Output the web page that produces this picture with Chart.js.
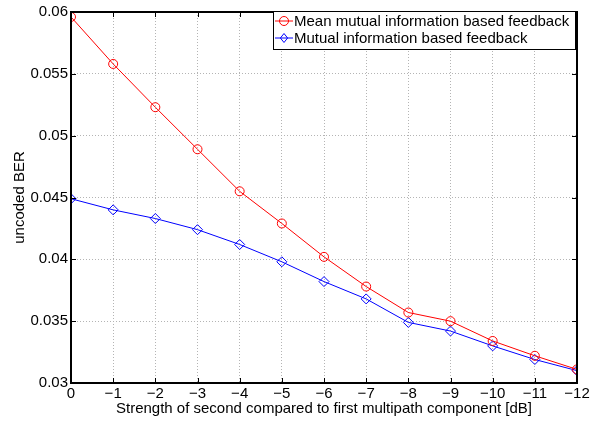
<!DOCTYPE html>
<html><head><meta charset="utf-8">
<script src="https://cdn.jsdelivr.net/npm/chart.js@4"></script>
<style>html,body{margin:0;padding:0;background:#fff}</style>
</head><body>
<canvas id="c" width="599" height="421"></canvas>
<script>
const strengthDb = [0, -1, -2, -3, -4, -5, -6, -7, -8, -9, -10, -11, -12];
const meanMutualInfo = [0.0596, 0.0558, 0.0523, 0.0489, 0.0455, 0.0429, 0.0402, 0.0378, 0.0357, 0.0350, 0.0334, 0.0322, 0.0311];
const mutualInfo = [0.0449, 0.0440, 0.0433, 0.0424, 0.0412, 0.0398, 0.0382, 0.0368, 0.0349, 0.0342, 0.0330, 0.0319, 0.0310];
const seriesNames = ["Mean mutual information based feedback", "Mutual information based feedback"];
const xTicks = [0, -1, -2, -3, -4, -5, -6, -7, -8, -9, -10, -11, -12];
const yTicks = [0.03, 0.035, 0.04, 0.045, 0.05, 0.055, 0.06];
const xTitle = "Strength of second compared to first multipath component [dB]";
const yTitle = "uncoded BER";

const FONT = '"Liberation Sans", Arial, Helvetica, sans-serif';
const FS = 15;
Chart.defaults.font.family = FONT;
Chart.defaults.font.size = FS;
Chart.defaults.color = '#000';

const toPts = (xs, ys) => xs.map((x, i) => ({x: x, y: ys[i]}));

const framePlugin = {
  id: 'frame',
  afterDraw(chart) {
    const {ctx, chartArea: a, scales} = chart;
    ctx.save();
    ctx.strokeStyle = '#000';
    ctx.lineWidth = 1;
    const tl = 5;
    ctx.beginPath();
    xTicks.forEach(v => {
      const px = Math.round(scales.x.getPixelForValue(v)) + 0.5;
      ctx.moveTo(px, a.bottom); ctx.lineTo(px, a.bottom - tl);
      ctx.moveTo(px, a.top); ctx.lineTo(px, a.top + tl);
    });
    yTicks.forEach(v => {
      const py = Math.round(scales.y.getPixelForValue(v)) + 0.5;
      ctx.moveTo(a.left, py); ctx.lineTo(a.left + tl, py);
      ctx.moveTo(a.right, py); ctx.lineTo(a.right - tl, py);
    });
    ctx.stroke();
    ctx.lineWidth = 2;
    ctx.strokeRect(a.left, a.top, a.right - a.left, a.bottom - a.top);
    ctx.restore();

    // legend
    const lx = 273, ly = 11, lw = 302, lh = 38;
    ctx.save();
    ctx.fillStyle = '#fff';
    ctx.fillRect(lx, ly, lw, lh);
    ctx.strokeStyle = '#000';
    ctx.lineWidth = 1;
    ctx.strokeRect(lx + 0.5, ly + 0.5, lw, lh);
    chart.data.datasets.forEach((ds, i) => {
      const cy = ly + 10 + i * 17;
      ctx.strokeStyle = ds.borderColor;
      ctx.lineWidth = 1;
      ctx.beginPath();
      ctx.moveTo(lx + 2, cy); ctx.lineTo(lx + 20, cy);
      ctx.stroke();
      const mx = lx + 11, r = 4.5;
      ctx.beginPath();
      if (ds.pointStyle === 'circle') {
        ctx.arc(mx, cy, r, 0, Math.PI * 2);
      } else {
        ctx.moveTo(mx, cy - r); ctx.lineTo(mx + r * 0.8, cy); ctx.lineTo(mx, cy + r); ctx.lineTo(mx - r * 0.8, cy); ctx.closePath();
      }
      ctx.stroke();
      ctx.fillStyle = '#000';
      ctx.font = FS + 'px ' + FONT;
      ctx.textBaseline = 'middle';
      ctx.textAlign = 'left';
      ctx.fillText(ds.label, lx + 21, cy + 1);
    });
    ctx.restore();
  }
};

new Chart(document.getElementById('c'), {
  type: 'line',
  data: {
    datasets: [
      {label: seriesNames[0], data: toPts(strengthDb, meanMutualInfo), borderColor: '#ff0000', backgroundColor: 'rgba(0,0,0,0)',
       pointStyle: 'circle', pointRadius: 4.5, pointBorderWidth: 1, borderWidth: 1, pointBorderColor: '#ff0000', pointBackgroundColor: 'rgba(0,0,0,0)', tension: 0},
      {label: seriesNames[1], data: toPts(strengthDb, mutualInfo), borderColor: '#0000ff', backgroundColor: 'rgba(0,0,0,0)',
       pointStyle: 'rectRot', pointRadius: 5, pointBorderWidth: 1, borderWidth: 1, pointBorderColor: '#0000ff', pointBackgroundColor: 'rgba(0,0,0,0)', tension: 0}
    ]
  },
  options: {
    responsive: false,
    animation: false,
    events: [],
    layout: {padding: {left: 0, top: 8, right: 22, bottom: 0}},
    plugins: {legend: {display: false}, tooltip: {enabled: false}},
    scales: {
      x: {
        type: 'linear', min: -12, max: 0, reverse: true,
        afterBuildTicks: s => { s.ticks = xTicks.map(v => ({value: v})); },
        afterFit: s => { s.height = 38; },
        ticks: {padding: 2, maxRotation: 0, autoSkip: false,
          callback: v => v === 0 ? '0' : '\u2212' + Math.abs(v)},
        grid: {color: '#b4b4b4', lineWidth: 1, drawTicks: false},
        border: {display: false, dash: [1, 2]},
        title: {display: true, text: xTitle, padding: {top: 0, bottom: 3}}
      },
      y: {
        type: 'linear', min: 0.03, max: 0.06,
        afterBuildTicks: s => { s.ticks = yTicks.map(v => ({value: v})); },
        afterFit: s => { s.width = 71; },
        ticks: {padding: 3, callback: v => String(Number(v.toFixed(3)))},
        grid: {color: '#b4b4b4', lineWidth: 1, drawTicks: false},
        border: {display: false, dash: [1, 2]},
        title: {display: true, text: yTitle, padding: {top: 11, bottom: 0}}
      }
    }
  },
  plugins: [framePlugin]
});
</script>
</body></html>
